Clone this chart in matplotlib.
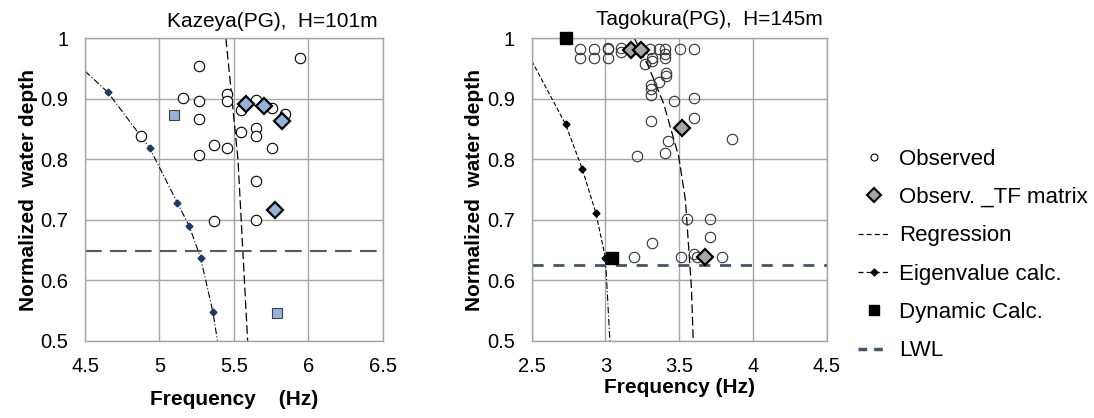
import matplotlib
matplotlib.use("Agg")
import matplotlib.pyplot as plt
from matplotlib.lines import Line2D
from matplotlib.ticker import FuncFormatter, MultipleLocator

plt.rcParams["font.family"] = ["Liberation Sans", "DejaVu Sans"]

# ---- Kazeya (PG), H=101m ----
kz_obs_f = [5.946, 5.267, 5.161, 5.267, 5.455, 5.455, 5.65, 5.55, 5.757, 5.846,
            5.267, 5.55, 5.65, 5.65, 4.878, 5.367, 5.455, 5.757, 5.267, 5.65,
            5.367, 5.65]
kz_obs_h = [0.967, 0.954, 0.901, 0.897, 0.908, 0.897, 0.898, 0.881, 0.885, 0.875,
            0.866, 0.846, 0.852, 0.838, 0.839, 0.824, 0.819, 0.819, 0.808, 0.764,
            0.698, 0.700]
kz_tf_f = [5.579, 5.703, 5.827, 5.775]
kz_tf_h = [0.892, 0.888, 0.864, 0.717]
kz_dyn_f = [5.096, 5.792]
kz_dyn_h = [0.873, 0.545]
kz_eig_f = [4.653, 4.934, 5.121, 5.200, 5.277, 5.360]
kz_eig_h = [0.911, 0.819, 0.728, 0.690, 0.637, 0.547]
kz_eigline_f = [4.50, 4.653, 4.934, 5.121, 5.200, 5.277, 5.360, 5.39]
kz_eigline_h = [0.946, 0.911, 0.819, 0.728, 0.690, 0.637, 0.547, 0.50]
kz_reg_f = [5.447, 5.528, 5.593]
kz_reg_h = [1.00, 0.80, 0.50]
kz_lwl = 0.649

# ---- Tagokura (PG), H=145m ----
tg_obs_f = [2.825, 2.825, 2.921, 2.921, 3.018, 3.018, 3.018, 3.108, 3.108,
            3.305, 3.316, 3.316, 3.361, 3.407, 3.407, 3.407, 3.503, 3.603,
            3.266, 3.413, 3.413, 3.364, 3.31, 3.31, 3.31, 3.463, 3.603,
            3.309, 3.603, 3.856, 3.427, 3.407, 3.217,
            3.553, 3.711, 3.711, 3.314, 3.196, 3.513, 3.603, 3.621, 3.793]
tg_obs_h = [0.982, 0.967, 0.982, 0.967, 0.984, 0.982, 0.967, 0.984, 0.978,
            0.982, 0.967, 0.962, 0.982, 0.982, 0.975, 0.968, 0.982, 0.982,
            0.957, 0.943, 0.938, 0.928, 0.923, 0.917, 0.906, 0.896, 0.901,
            0.863, 0.869, 0.834, 0.830, 0.810, 0.806,
            0.702, 0.701, 0.671, 0.661, 0.639, 0.639, 0.644, 0.639, 0.639]
tg_tf_f = [3.17, 3.238, 3.52, 3.675]
tg_tf_h = [0.981, 0.981, 0.852, 0.638]
tg_dyn_f = [2.73, 3.045]
tg_dyn_h = [1.00, 0.637]
tg_eig_f = [2.73, 2.843, 2.934, 3.00]
tg_eig_h = [0.858, 0.784, 0.712, 0.637]
tg_eigline_f = [2.50, 2.73, 2.843, 2.934, 3.00]
tg_eigline_h = [0.963, 0.858, 0.784, 0.712, 0.637]
tg_eigext_f = [3.00, 3.03]
tg_eigext_h = [0.637, 0.50]
tg_reg_f = [3.196, 3.293, 3.395, 3.497, 3.542, 3.583, 3.595]
tg_reg_h = [1.00, 0.953, 0.892, 0.804, 0.733, 0.587, 0.50]
tg_lwl = 0.626

GRID = "#A6A6A6"
LIGHTBLUE = "#95B3D7"
TICK_FS = 14.5
LABEL_FS = 15


def style_axes(ax, xlim, xlabel):
    ax.set_xlim(*xlim)
    ax.set_ylim(0.5, 1.0)
    ax.xaxis.set_major_locator(MultipleLocator(0.5))
    ax.yaxis.set_major_locator(MultipleLocator(0.1))
    fmt = FuncFormatter(lambda v, p: f"{v:g}")
    ax.xaxis.set_major_formatter(fmt)
    ax.yaxis.set_major_formatter(fmt)
    ax.grid(True, color=GRID, linewidth=1.0)
    ax.set_axisbelow(True)
    for s in ax.spines.values():
        s.set_color(GRID)
        s.set_linewidth(1.0)
    ax.tick_params(axis="x", length=0, labelsize=TICK_FS, pad=12)
    ax.tick_params(axis="y", length=0, labelsize=TICK_FS, pad=12)
    ax.set_xlabel(xlabel, fontsize=LABEL_FS, fontweight="bold")
    ax.set_ylabel("Normalized  water depth", fontsize=LABEL_FS, fontweight="bold",
                  labelpad=2)


fig = plt.figure(figsize=(10.94, 4.18), dpi=100)
axK = fig.add_axes([0.0777, 0.185, 0.272, 0.723])
axT = fig.add_axes([0.486, 0.185, 0.2697, 0.723])

# Kazeya
axK.plot(kz_eigline_f, kz_eigline_h, color="black", linewidth=0.8,
         linestyle=(0, (6, 2, 1, 2)), zorder=2)
axK.plot(kz_eig_f, kz_eig_h, linestyle="none", marker="D", markersize=3.5,
         color="#1F3864", zorder=3)
axK.plot(kz_reg_f, kz_reg_h, color="black", linewidth=0.9,
         linestyle=(0, (7, 3)), zorder=2)
axK.axhline(kz_lwl, color="#595959", linewidth=1.5, linestyle=(0, (8, 4)), zorder=2)
axK.plot(kz_obs_f, kz_obs_h, linestyle="none", marker="o", markersize=7.5,
         markerfacecolor="white", markeredgecolor="black", markeredgewidth=0.8,
         zorder=4)
axK.plot(kz_tf_f, kz_tf_h, linestyle="none", marker="D", markersize=8,
         markerfacecolor=LIGHTBLUE, markeredgecolor="black", markeredgewidth=1.6,
         zorder=5)
axK.plot(kz_dyn_f, kz_dyn_h, linestyle="none", marker="s", markersize=7,
         markerfacecolor=LIGHTBLUE, markeredgecolor="#404040", markeredgewidth=0.8,
         zorder=5)
style_axes(axK, (4.5, 6.5), "Frequency    (Hz)")
axK.xaxis.labelpad = 10
axK.text(0.985, 1.025, "Kazeya(PG),  H=101m", transform=axK.transAxes,
         ha="right", va="bottom", fontsize=15)

# Tagokura
axT.plot(tg_eigline_f, tg_eigline_h, color="black", linewidth=0.8,
         linestyle=(0, (4, 2)), zorder=2)
axT.plot(tg_eigext_f, tg_eigext_h, color="black", linewidth=0.8,
         linestyle=(0, (6, 2, 1, 2)), zorder=2)
axT.plot(tg_eig_f, tg_eig_h, linestyle="none", marker="D", markersize=3.5,
         color="black", zorder=3)
axT.plot(tg_reg_f, tg_reg_h, color="black", linewidth=0.9,
         linestyle=(0, (7, 3)), zorder=2)
axT.axhline(tg_lwl, color="#44546A", linewidth=2.0, linestyle=(0, (4, 3.5)), zorder=2)
axT.plot(tg_obs_f, tg_obs_h, linestyle="none", marker="o", markersize=7.5,
         markerfacecolor="none", markeredgecolor="#333333", markeredgewidth=0.8,
         zorder=4)
axT.plot(tg_tf_f, tg_tf_h, linestyle="none", marker="D", markersize=8,
         markerfacecolor="#A6A6A6", markeredgecolor="black", markeredgewidth=1.6,
         zorder=5)
axT.plot(tg_dyn_f, tg_dyn_h, linestyle="none", marker="s", markersize=8,
         color="black", zorder=6, clip_on=False)
style_axes(axT, (2.5, 4.5), "Frequency (Hz)")
axT.xaxis.labelpad = 1
axT.text(0.985, 1.03, "Tagokura(PG),  H=145m", transform=axT.transAxes,
         ha="right", va="bottom", fontsize=15)

handles = [
    Line2D([], [], linestyle="none", marker="o", markersize=5,
           markerfacecolor="white", markeredgecolor="black", markeredgewidth=0.8),
    Line2D([], [], linestyle="none", marker="D", markersize=7,
           markerfacecolor="#A6A6A6", markeredgecolor="black", markeredgewidth=1.5),
    Line2D([], [], color="black", linewidth=0.9, linestyle=(0, (4, 2.5))),
    Line2D([], [], color="black", linewidth=0.9, linestyle=(0, (4, 2.5)),
           marker="D", markersize=3.5),
    Line2D([], [], linestyle="none", marker="s", markersize=7, color="black"),
    Line2D([], [], color="#44546A", linewidth=2.5, linestyle=(0, (2.5, 2))),
]
labels = ["Observed", "Observ. _TF matrix", "Regression", "Eigenvalue calc.",
          "Dynamic Calc.", "LWL"]
fig.legend(handles, labels, loc="center left", bbox_to_anchor=(0.766, 0.39),
           frameon=False, fontsize=16, labelspacing=0.78, handlelength=1.4,
           handletextpad=0.45)

fig.savefig("out.png", dpi=100)
